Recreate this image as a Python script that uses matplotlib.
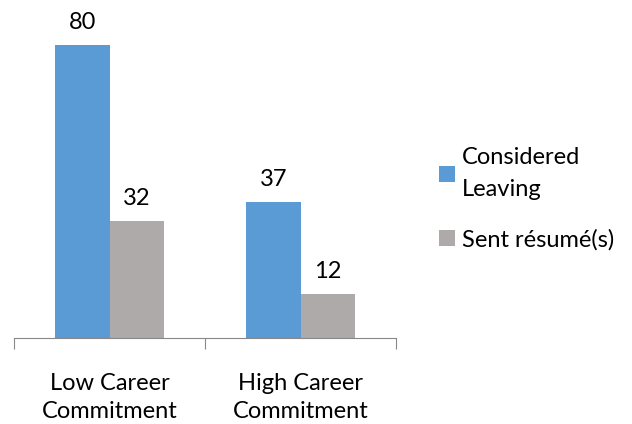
import matplotlib.pyplot as plt
import numpy as np

categories = ['Low Career\nCommitment', 'High Career\nCommitment']
considered = [80, 37]
sent = [32, 12]
series_names = ['Considered\nLeaving', 'Sent résumé(s)']

blue = '#5B9BD5'
gray = '#AEAAAA'

plt.rcParams['font.family'] = ['Lato', 'DejaVu Sans']

fig = plt.figure(figsize=(6.32, 4.24), dpi=100)
ax = fig.add_axes([14 / 632, 86 / 424, 382 / 632, 330 / 424])

x = np.arange(len(categories))
w = 0.283
b1 = ax.bar(x - w / 2, considered, w, color=blue, label=series_names[0])
b2 = ax.bar(x + w / 2, sent, w, color=gray, label=series_names[1])

for bars in (b1, b2):
    for r in bars:
        ax.text(r.get_x() + r.get_width() / 2, r.get_height() + 3.3,
                str(int(r.get_height())), ha='center', va='bottom', fontsize=17)

ax.set_xlim(-0.5, 1.5)
ax.set_ylim(0, 90)
ax.set_yticks([])
for s in ['top', 'right', 'left']:
    ax.spines[s].set_visible(False)
ax.spines['bottom'].set_color('#888888')

# ticks sit at category boundaries, labels at the centres
ax.set_xticks([-0.5, 0.5, 1.5])
ax.set_xticklabels([])
ax.tick_params(axis='x', length=8, color='#888888')
ax.set_xticks(x, minor=True)
ax.set_xticklabels(categories, minor=True, fontsize=17, linespacing=1.45)
ax.tick_params(axis='x', which='minor', length=0, pad=25)

leg = fig.legend(handles=[b1, b2], loc='upper left', bbox_to_anchor=(418 / 632, 1 - 126 / 424),
                 frameon=False, fontsize=17, handlelength=0.65, handleheight=0.65,
                 handletextpad=0.3, labelspacing=1.2)
for t in leg.get_texts():
    t.set_linespacing(1.65)

fig.savefig('out.png', dpi=100)
